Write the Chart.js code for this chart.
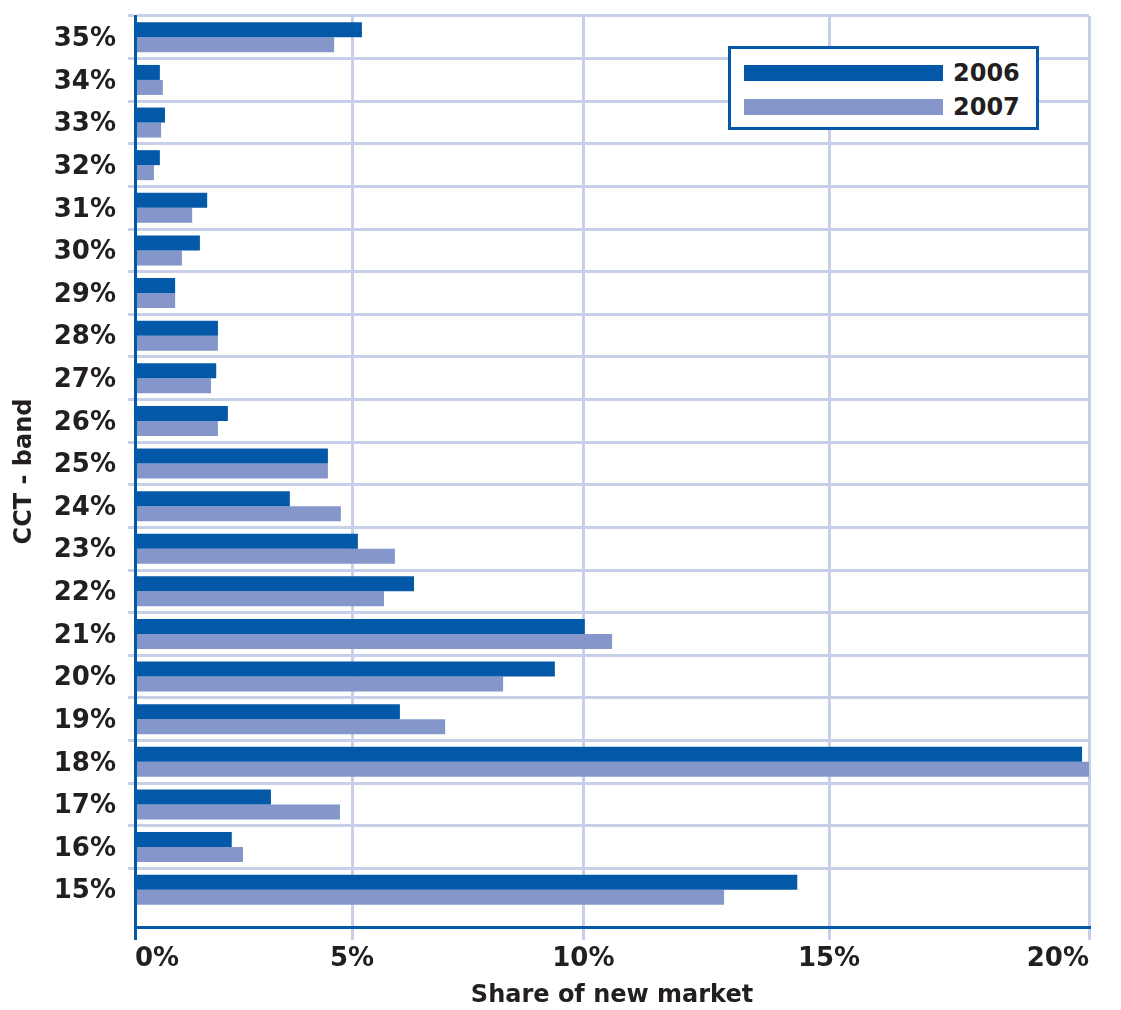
<!DOCTYPE html>
<html>
<head>
<meta charset="utf-8">
<title>Share of new market by CCT band</title>
<script src="https://cdn.jsdelivr.net/npm/chart.js@4.4.1/dist/chart.umd.min.js"></script>
<style>
  html, body { margin: 0; padding: 0; background: #fff; }
  #wrap { position: relative; width: 1121px; height: 1010px; }
  #legend {
    position: absolute; left: 728px; top: 46px; width: 311px; height: 84px;
    box-sizing: border-box; border: 3px solid #0358a8; background: #fff;
    padding: 7px 0 0 13px;
    font: bold 24px "DejaVu Sans", Verdana, sans-serif; color: #231f20;
  }
  #legend .row { display: flex; align-items: center; height: 34px; }
  #legend .sw { width: 199px; height: 16px; margin-right: 10px; }
</style>
</head>
<body>
<div id="wrap">
  <canvas id="chart" width="1121" height="1010"></canvas>
  <div id="legend"></div>
</div>
<script>
// Bandas CCT, de arriba hacia abajo
const bandas = ['35%', '34%', '33%', '32%', '31%', '30%', '29%', '28%', '27%', '26%', '25%',
                '24%', '23%', '22%', '21%', '20%', '19%', '18%', '17%', '16%', '15%'];

// Participación en el mercado nuevo (%)
const serie2006 = [5.22, 0.59, 0.71, 0.59, 1.70, 1.53, 0.95, 1.95, 1.91, 2.18, 4.46,
                   3.60, 5.13, 6.37, 10.03, 9.40, 6.06, 19.87, 3.17, 2.27, 14.37];
const serie2007 = [4.60, 0.66, 0.62, 0.45, 1.35, 1.11, 0.95, 1.95, 1.79, 1.95, 4.46,
                   4.75, 5.95, 5.71, 10.60, 8.30, 7.05, 20.00, 4.73, 2.53, 12.90];

const xTicks = [0, 5, 10, 15, 20];

const AZUL = '#0358a8';
const LILA = '#8496ca';
const REJILLA = '#c8d0e9';
const TEXTO = '#231f20';
const FUENTE = "'DejaVu Sans', Verdana, sans-serif";

// Eje x cuya separación crece un poco hacia la derecha (mezcla lineal + cuadrática)
const PARTE_LINEAL = 0.88;
class BentScale extends Chart.LinearScale {
    getPixelForValue(value) {
        if (value === null || value === undefined) return NaN;
        const t = (value - this._startValue) / this._valueRange;
        return this.getPixelForDecimal(PARTE_LINEAL * t + (1 - PARTE_LINEAL) * t * t);
    }
    getValueForPixel(pixel) {
        const d = this.getDecimalForPixel(pixel);
        const k = 1 - PARTE_LINEAL;
        const t = (-PARTE_LINEAL + Math.sqrt(PARTE_LINEAL * PARTE_LINEAL + 4 * k * d)) / (2 * k);
        return this._startValue + t * this._valueRange;
    }
}
BentScale.id = 'bent';
Chart.register(BentScale);

// espacio extra bajo la última banda, en unidades de banda
const HOLGURA_ABAJO = 0.375;

const chart = new Chart(document.getElementById('chart'), {
    type: 'bar',
    data: {
        datasets: [
            {
                label: '2006',
                data: serie2006.map((v, i) => ({ x: v, y: i })),
                backgroundColor: AZUL,
                categoryPercentage: 0.704,
                barPercentage: 1
            },
            {
                label: '2007',
                data: serie2007.map((v, i) => ({ x: v, y: i })),
                backgroundColor: LILA,
                categoryPercentage: 0.704,
                barPercentage: 1
            }
        ]
    },
    options: {
        indexAxis: 'y',
        responsive: false,
        animation: false,
        events: [],
        layout: { padding: { top: 16, right: 32, bottom: 0, left: 0 } },
        plugins: {
            legend: { display: false },
            tooltip: { enabled: false }
        },
        scales: {
            x: {
                type: 'bent',
                min: 0,
                max: 20,
                afterBuildTicks: s => { s.ticks = xTicks.map(v => ({ value: v })); },
                afterFit: s => {
                    s.height = 83;
                    s.paddingLeft = 0;
                    s.paddingRight = 0;
                },
                grid: {
                    color: c => (c.tick && c.tick.value === 0) ? AZUL : REJILLA,
                    lineWidth: 3,
                    tickLength: 13
                },
                border: { display: true, color: AZUL, width: 3 },
                ticks: {
                    color: TEXTO,
                    font: { family: FUENTE, size: 26, weight: 'bold' },
                    padding: 4,
                    align: 'inner',
                    maxRotation: 0,
                    autoSkip: false,
                    callback: v => v + '%'
                },
                title: {
                    display: true,
                    text: 'Share of new market',
                    color: TEXTO,
                    font: { family: FUENTE, size: 24, weight: 'bold' },
                    padding: 0
                }
            },
            y: {
                type: 'linear',
                reverse: true,
                offset: false,
                min: -0.5,
                max: bandas.length - 0.5 + HOLGURA_ABAJO,
                afterBuildTicks: s => { s.ticks = bandas.map((b, i) => ({ value: i })); },
                afterFit: s => {
                    s.width = 135;
                    s.paddingTop = 0;
                    s.paddingBottom = 0;
                },
                grid: {
                    offset: true,
                    color: c => c.tick ? REJILLA : 'transparent',
                    lineWidth: 3,
                    tickLength: 7
                },
                border: { display: true, color: AZUL, width: 3, z: 1 },
                ticks: {
                    color: TEXTO,
                    font: { family: FUENTE, size: 26, weight: 'bold' },
                    padding: 12,
                    labelOffset: 2,
                    autoSkip: false,
                    callback: v => bandas[v]
                },
                title: {
                    display: true,
                    text: 'CCT - band',
                    color: TEXTO,
                    font: { family: FUENTE, size: 24, weight: 'bold' },
                    padding: { top: 10, bottom: 0 }
                }
            }
        }
    }
});

// Leyenda en recuadro, a partir de las series
const leyenda = document.getElementById('legend');
chart.data.datasets.forEach(ds => {
    leyenda.innerHTML += `<div class="row"><span class="sw" style="background:${ds.backgroundColor}"></span><span>${ds.label}</span></div>`;
});
</script>
</body>
</html>
